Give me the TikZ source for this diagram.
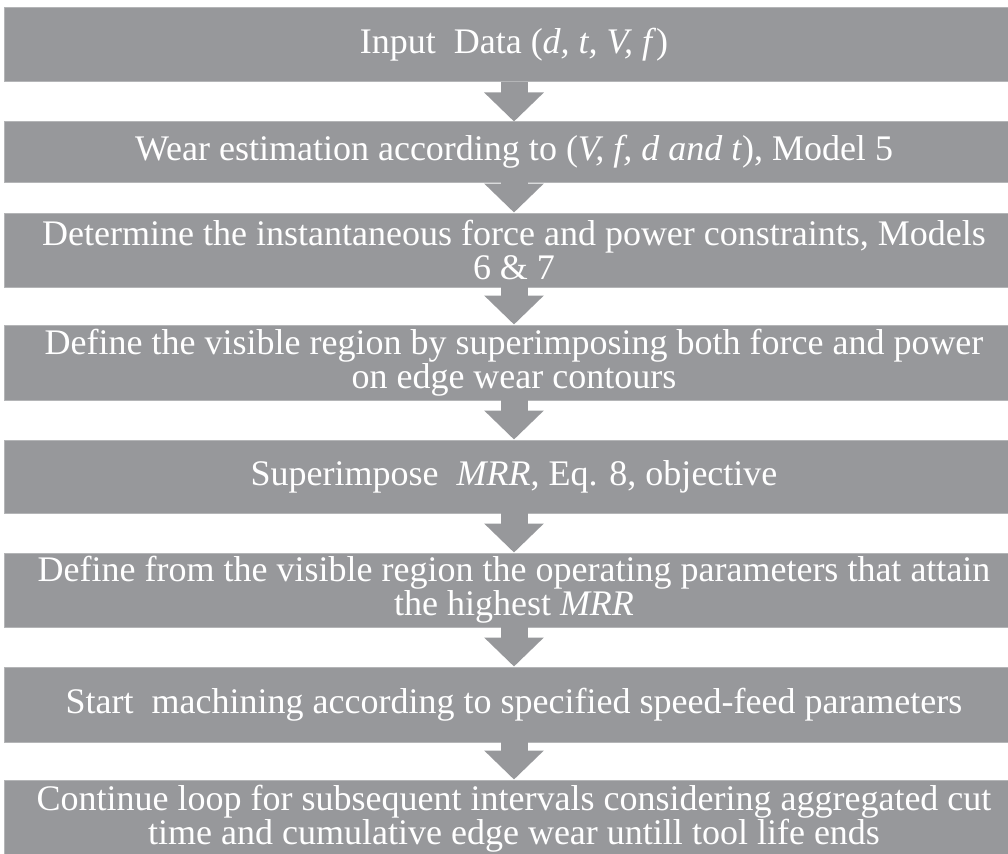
\documentclass[tikz,border=0pt]{standalone}
\usepackage{fontspec}
\setmainfont{Liberation Serif}
\usetikzlibrary{arrows.meta,positioning}
\definecolor{boxgray}{HTML}{97989B}
\definecolor{edgegray}{HTML}{B4B5B7}

\begin{document}
\begin{tikzpicture}[x=1pt,y=-1pt,
  stage/.style={rectangle, fill=boxgray, draw=edgegray, line width=1pt, text=white, minimum width=1020pt, align=center, inner sep=0pt, font=\fontsize{36}{34}\selectfont},
  flow/.style={draw=boxgray, line width=27pt, -{Triangle[length=29pt,width=58pt]}, shorten <=-0.5pt}
]
\useasboundingbox (0,0) rectangle (1008,853);

\node[stage, minimum height=74pt] (input) at (514,45) {Input~ Data (\textit{d, t, V, f})};
\node[stage, minimum height=60pt, below of=input, node distance=107pt] (wear) {Wear estimation according to (\textit{V, f, d and t}), Model 5};
\node[stage, minimum height=74pt, below of=wear, node distance=98pt] (limits) {Determine the instantaneous force and power constraints, Models\\6 \& 7};
\node[stage, minimum height=75pt, below of=limits, node distance=112.5pt] (region) {Define the visible region by superimposing both force and power\\on edge wear contours};
\node[stage, minimum height=73pt, below of=region, node distance=114pt] (mrr) {Superimpose~ \textit{MRR}, Eq. 8, objective};
\node[stage, minimum height=74pt, below of=mrr, node distance=113.5pt] (params) {Define from the visible region the operating parameters that attain\\the highest \textit{MRR}};
\node[stage, minimum height=75pt, below of=params, node distance=114.5pt] (machining) {Start~ machining according to specified speed-feed parameters};
\node[stage, minimum height=78pt, below of=machining, node distance=114.5pt] (loop) {Continue loop for subsequent intervals considering aggregated cut\\time and cumulative edge wear untill tool life ends};

\draw[flow] (input) -- (wear);
\draw[flow] (wear) -- (limits);
\draw[flow] (limits) -- (region);
\draw[flow] (region) -- (mrr);
\draw[flow] (mrr) -- (params);
\draw[flow] (params) -- (machining);
\draw[flow] (machining) -- (loop);
\end{tikzpicture}
\end{document}
